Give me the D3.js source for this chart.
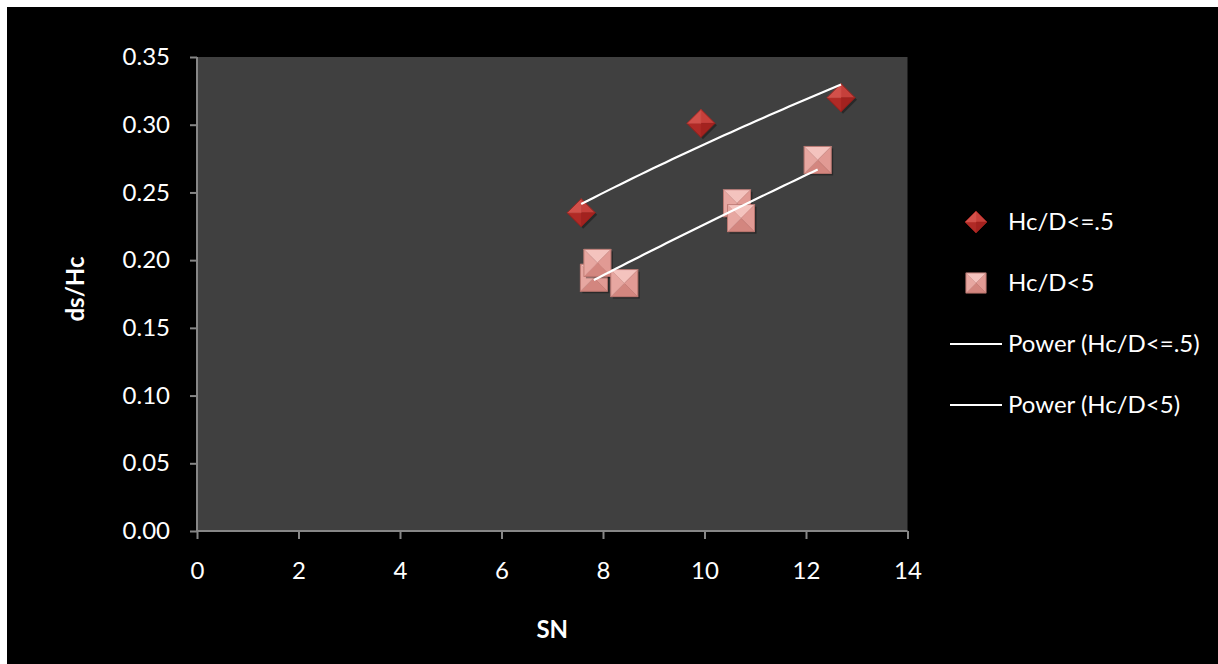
<!DOCTYPE html>
<html><head><meta charset="utf-8">
<script src="https://cdn.jsdelivr.net/npm/d3@7"></script>
<style>
html,body{margin:0;padding:0;background:#fff;}
svg{display:block;}
text{font-family:Lato,"Open Sans",sans-serif;fill:#fff;}
</style></head><body>
<svg id="c" width="1218" height="664"></svg>
<script>
// ---- data ----
const seriesNames = ["Hc/D<=.5", "Hc/D<5"];
const trendNames = ["Power (Hc/D<=.5)", "Power (Hc/D<5)"];
const s1X = [7.57, 9.93, 12.69];
const s1Y = [0.235, 0.301, 0.320];
const s2X = [7.82, 7.89, 8.42, 10.64, 10.72, 12.23];
const s2Y = [0.187, 0.198, 0.183, 0.242, 0.231, 0.274];
const xTicks = [0, 2, 4, 6, 8, 10, 12, 14];
const yTicks = [0, 0.05, 0.10, 0.15, 0.20, 0.25, 0.30, 0.35];
const xTitle = "SN";
const yTitle = "ds/Hc";

const svg = d3.select("#c");
svg.append("rect").attr("x",7).attr("y",7).attr("width",1211).attr("height",657).attr("fill","#000");

const L=197, R=907.5, T=57, B=531;
const x = d3.scaleLinear().domain([0,14]).range([L,R]);
const y = d3.scaleLinear().domain([0,0.35]).range([B,T]);

svg.append("rect").attr("x",L).attr("y",T).attr("width",R-L).attr("height",B-T).attr("fill","#404040");

const FS = "24px";
const ax = svg.append("g").attr("transform",`translate(0,${B})`)
  .call(d3.axisBottom(x).tickValues(xTicks).tickSize(8).tickPadding(25).tickFormat(d3.format("d")));
const ay = svg.append("g").attr("transform",`translate(${L},0)`)
  .call(d3.axisLeft(y).tickValues(yTicks).tickSize(7).tickPadding(20).tickFormat(d3.format(".2f")));
[ax,ay].forEach(g=>{
  g.select(".domain").attr("stroke","#868686").attr("stroke-width",2);
  g.selectAll(".tick line").attr("stroke","#868686").attr("stroke-width",2);
  g.selectAll(".tick text").attr("fill","#fff").style("font-size",FS).style("font-family","Lato, 'Open Sans', sans-serif");
});
ay.select(".domain").attr("d",`M0,${T}V${B}`);
ax.select(".domain").attr("d",`M${L-1},0H${R}`);
ax.selectAll(".tick text").attr("dy","0.62em");

svg.append("text").attr("x",(L+R)/2).attr("y",638).attr("text-anchor","middle")
  .style("font-size",FS).style("font-weight","bold").text(xTitle);
svg.append("text").attr("transform","translate(84,289) rotate(-90)").attr("text-anchor","middle")
  .style("font-size",FS).style("font-weight","bold").text(yTitle);

function powerFit(xs, ys){
  const lx=xs.map(Math.log), ly=ys.map(Math.log);
  const mx=d3.mean(lx), my=d3.mean(ly);
  let sxy=0,sxx=0;
  lx.forEach((v,i)=>{sxy+=(v-mx)*(ly[i]-my); sxx+=(v-mx)*(v-mx);});
  const b=sxy/sxx, a=Math.exp(my-b*mx);
  const x0=d3.min(xs), x1=d3.max(xs);
  return d3.range(0,41).map(i=>{const xv=x0+(x1-x0)*i/40; return [xv, a*Math.pow(xv,b)];});
}
const line = d3.line().x(d=>x(d[0])).y(d=>y(d[1]));

function diamond(g, cx, cy, r){
  const grp = g.append("g").attr("transform",`translate(${cx},${cy})`);
  grp.append("path").attr("d",`M${2},${-r+2}L${r+2},${2}L${2},${r+2}L${-r+2},${2}Z`).attr("fill","rgba(0,0,0,0.35)");
  const pts={t:[0,-r],r:[r,0],b:[0,r],l:[-r,0]};
  const facets=[["t","r","#c6403b"],["r","b","#a3221f"],["b","l","#b02a26"],["l","t","#d2504a"]];
  facets.forEach(([p,q,c])=>grp.append("path").attr("d",`M0,0L${pts[p]}L${pts[q]}Z`).attr("fill",c).attr("stroke",c).attr("stroke-width",0.5));
  grp.append("path").attr("d",`M0,${-r}L${r},0L0,${r}L${-r},0Z`).attr("fill","none").attr("stroke","#8e1e1b").attr("stroke-width",0.8);
}
function square(g, cx, cy, h){
  const grp = g.append("g").attr("transform",`translate(${cx},${cy})`);
  grp.append("rect").attr("x",-h+2).attr("y",-h+2).attr("width",2*h).attr("height",2*h).attr("fill","rgba(0,0,0,0.35)");
  const c={tl:[-h,-h],tr:[h,-h],br:[h,h],bl:[-h,h]};
  const facets=[["tl","tr","#f4c3be"],["tr","br","#e19a94"],["br","bl","#d3867f"],["bl","tl","#e7a7a1"]];
  facets.forEach(([p,q,col])=>grp.append("path").attr("d",`M0,0L${c[p]}L${c[q]}Z`).attr("fill",col).attr("stroke",col).attr("stroke-width",0.5));
  grp.append("rect").attr("x",-h).attr("y",-h).attr("width",2*h).attr("height",2*h).attr("fill","none").attr("stroke","#b8736d").attr("stroke-width",0.8);
}

const gm = svg.append("g");
s2X.forEach((v,i)=>square(gm, x(v), y(s2Y[i]), 13.5));
s1X.forEach((v,i)=>diamond(gm, x(v), y(s1Y[i]), 14));

svg.append("path").datum(powerFit(s1X,s1Y)).attr("d",line).attr("fill","none").attr("stroke","#fff").attr("stroke-width",2.2);
svg.append("path").datum(powerFit(s2X,s2Y)).attr("d",line).attr("fill","none").attr("stroke","#fff").attr("stroke-width",2.2);

const lg = svg.append("g");
const legY=[222,283,344,405];
diamond(lg, 976, legY[0], 11);
square(lg, 976, legY[1], 10);
[0,1].forEach(i=>lg.append("line").attr("x1",950).attr("x2",1002).attr("y1",legY[i+2]).attr("y2",legY[i+2]).attr("stroke","#fff").attr("stroke-width",2));
const labels=[seriesNames[0],seriesNames[1],trendNames[0],trendNames[1]];
labels.forEach((t,i)=>lg.append("text").attr("x",1008).attr("y",legY[i]).attr("dy","0.35em").style("font-size",FS).text(t));
</script>
</body></html>
